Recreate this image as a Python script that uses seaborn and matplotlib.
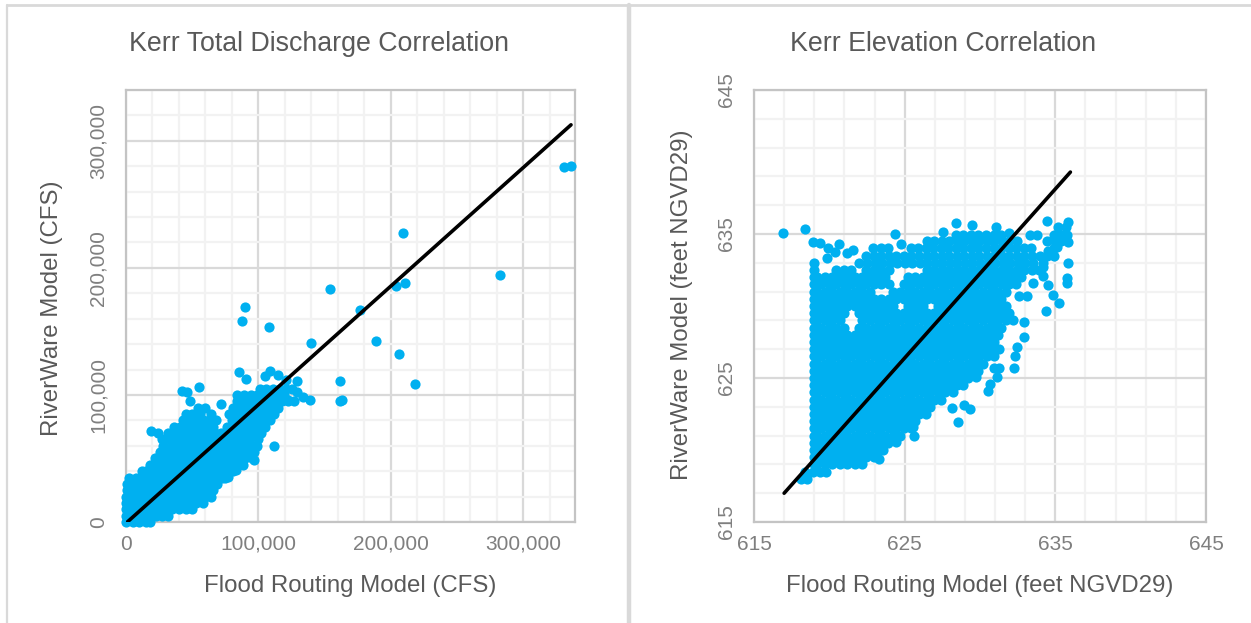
import matplotlib
matplotlib.use("Agg")
import matplotlib.pyplot as plt
import numpy as np
import seaborn as sns
from matplotlib.lines import Line2D
from matplotlib.ticker import FuncFormatter, MultipleLocator

# Kerr total discharge, thousands of CFS: one flood routing list per riverware level
discharge_levels = [0, 5, 10, 15, 20, 25, 30, 35, 40, 45, 50, 55, 60, 65, 70, 75, 80, 85, 90, 95, 100, 105]
discharge_flood = [
    [0, 5, 10, 15, 18],
    [0, 2.5, 7.5, 12.5, 17.5, 22.5, 27.5, 32],
    [0, 5, 10, 15, 20, 25, 30, 35, 40, 45, 50],
    [0, 2.5, 7.5, 12.5, 17.5, 22.5, 27.5, 32.5, 37.5, 42.5, 47.5, 52.5, 58],
    [0, 5, 10, 15, 20, 25, 30, 35, 40, 45, 50, 55, 60, 64],
    [1, 2.5, 7.5, 12.5, 17.5, 22.5, 27.5, 32.5, 37.5, 42.5, 47.5, 52.5, 57.5, 62.5, 66],
    [1, 5, 10, 15, 20, 25, 30, 35, 40, 45, 50, 55, 60, 65, 69],
    [2, 7.5, 12.5, 17.5, 22.5, 27.5, 32.5, 37.5, 42.5, 47.5, 52.5, 57.5, 62.5, 67.5, 72.5, 75],
    [12, 15, 20, 25, 30, 35, 40, 45, 50, 55, 60, 65, 70, 75, 81],
    [18, 22.5, 27.5, 32.5, 37.5, 42.5, 47.5, 52.5, 57.5, 62.5, 67.5, 72.5, 77.5, 82.5, 88],
    [22, 25, 30, 35, 40, 45, 50, 55, 60, 65, 70, 75, 80, 85, 90, 95],
    [26, 32.5, 37.5, 42.5, 47.5, 52.5, 57.5, 62.5, 67.5, 72.5, 77.5, 82.5, 87.5, 92.5, 97],
    [28, 35, 40, 45, 50, 55, 60, 65, 70, 75, 80, 85, 90, 95, 99],
    [27, 32.5, 37.5, 42.5, 47.5, 52.5, 57.5, 62.5, 67.5, 72.5, 77.5, 82.5, 87.5, 92.5, 100],
    [32, 37, 42, 47, 52, 57, 62, 67, 72, 77, 82, 87, 92, 97, 102],
    [36, 41, 46, 51, 56, 61, 66, 76, 81, 86, 91, 96, 101, 105],
    [43, 48, 53, 58, 63, 68, 80, 85, 90, 95, 100, 105, 109],
    [45, 50, 56, 64, 78, 83, 88, 93, 98, 103, 108, 112],
    [54, 60, 81, 86, 91, 96, 101, 106, 111, 115],
    [84, 90, 95, 100, 105, 110, 115, 118, 122, 127],
    [84, 89, 94, 99, 104, 109, 114, 119],
    [101, 106, 111, 116, 121, 125],
]
discharge_flood_out = [331, 336, 209, 282, 154, 204, 211, 177, 90, 87.5, 108, 140, 189, 206, 161.5, 218, 163, 161.5,
                       85, 90.6, 105, 109, 115, 121, 129, 139, 134, 122.5, 129, 112, 115, 112, 97, 83, 77, 55, 19, 24,
                       42, 46, 48, 72]
discharge_river_out = [279.5, 280, 227.6, 194.5, 183.5, 186, 188, 167, 169, 158, 153.5, 141, 142.5, 132, 111, 108.7, 96, 95,
                       118, 112.6, 115, 119, 115.7, 112, 111, 96, 98.7, 96, 102.6, 91, 94.7, 60, 49, 41, 35.7, 106.5, 72, 70,
                       103, 102.6, 95, 93]
discharge_line_x = [1, 336]
discharge_line_y = [0, 312.6]

# Kerr elevation, feet NGVD29
elev_levels = [618.0, 618.5, 619.0, 619.5, 620.0, 620.5, 621.0, 621.5, 622.0, 622.5, 623.0, 623.5, 624.0, 624.5, 625.0,
               625.5, 626.0, 626.5, 627.0, 627.5, 628.0, 628.5, 629.0, 629.5, 630.0, 630.5, 631.0, 631.5, 632.0, 632.5,
               633.0, 633.5, 634.0, 634.5, 634.9, 635.5]
elev_flood = [
    [618.1, 618.5],
    [618.4, 618.9, 619.4, 619.8],
    [619.0, 619.2, 619.7, 620.2, 620.7, 621.2, 621.7, 622.2],
    [619.0, 619.45, 619.95, 620.45, 620.95, 621.45, 621.95, 622.45, 622.95],
    [619.0, 619.2, 619.7, 620.2, 620.7, 621.2, 621.7, 622.2, 622.7, 623.2],
    [619.0, 619.45, 619.95, 620.45, 620.95, 621.45, 621.95, 622.45, 622.95, 623.45, 623.9],
    [619.0, 619.2, 619.7, 620.2, 620.7, 621.2, 621.7, 622.2, 622.7, 623.2, 623.7, 624.2, 624.7],
    [619.0, 619.45, 619.95, 620.45, 620.95, 621.45, 621.95, 622.45, 622.95, 623.45, 623.95, 624.45, 624.95, 625.4],
    [619.0, 619.2, 619.7, 620.2, 620.7, 621.2, 621.7, 622.2, 622.7, 623.2, 623.7, 624.2, 624.7, 625.2, 625.7],
    [619.0, 619.45, 619.95, 620.45, 620.95, 621.45, 621.95, 622.45, 622.95, 623.45, 623.95, 624.45, 624.95, 625.45, 625.95, 626.4],
    [619.0, 619.2, 619.7, 620.2, 620.7, 621.2, 621.7, 622.2, 622.7, 623.2, 623.7, 624.2, 624.7, 625.2, 625.7, 626.2, 626.7],
    [619.0, 619.45, 619.95, 620.45, 620.95, 621.45, 621.95, 622.45, 622.95, 623.45, 623.95, 624.45, 624.95, 625.45, 625.95, 626.45, 626.95, 627.4],
    [619.0, 619.2, 619.7, 620.2, 620.7, 621.2, 621.7, 622.2, 622.7, 623.2, 623.7, 624.2, 624.7, 625.2, 625.7, 626.2, 626.7, 627.2, 627.7, 628.2],
    [619.0, 619.45, 619.95, 620.45, 620.95, 621.45, 621.95, 622.45, 622.95, 623.45, 623.95, 624.45, 624.95, 625.45, 625.95, 626.45, 626.95, 627.45, 627.95, 628.45, 628.9],
    [619.0, 619.2, 619.7, 620.2, 620.7, 621.2, 621.7, 622.2, 622.7, 623.2, 623.7, 624.2, 624.7, 625.2, 625.7, 626.2, 626.7, 627.2, 627.7, 628.2, 628.7, 629.2],
    [619.0, 619.45, 619.95, 620.45, 620.95, 621.45, 621.95, 622.45, 622.95, 623.45, 623.95, 624.45, 624.95, 625.45, 625.95, 626.45, 626.95, 627.45, 627.95, 628.45, 628.95, 629.45, 629.9],
    [619.0, 619.2, 619.7, 620.2, 620.7, 621.2, 621.7, 622.2, 622.7, 623.2, 623.7, 624.2, 624.7, 625.2, 625.7, 626.2, 626.7, 627.2, 627.7, 628.2, 628.7, 629.2, 629.7, 630.2],
    [619.0, 619.45, 619.95, 620.45, 620.95, 621.45, 621.95, 622.45, 622.95, 623.45, 623.95, 624.45, 624.95, 625.45, 625.95, 626.45, 626.95, 627.45, 627.95, 628.45, 628.95, 629.45, 629.95, 630.45, 630.9],
    [619.0, 619.2, 619.7, 620.2, 620.7, 621.2, 621.7, 622.2, 622.7, 623.2, 623.7, 624.2, 624.7, 625.2, 625.7, 626.2, 626.7, 627.2, 627.7, 628.2, 628.7, 629.2, 629.7, 630.2, 630.7],
    [619.0, 619.45, 619.95, 620.45, 620.95, 621.45, 621.95, 622.45, 622.95, 623.45, 623.95, 624.45, 624.95, 625.45, 625.95, 626.45, 626.95, 627.45, 627.95, 628.45, 628.95, 629.45, 629.95, 630.45, 630.9],
    [619.0, 619.2, 619.7, 620.2, 620.7, 621.2, 621.7, 622.2, 622.7, 623.2, 623.7, 624.2, 624.7, 625.2, 625.7, 626.2, 626.7, 627.2, 627.7, 628.2, 628.7, 629.2, 629.7, 630.2, 630.7, 631.2],
    [619.0, 619.45, 619.95, 620.45, 620.95, 621.95, 622.45, 622.95, 623.45, 623.95, 624.45, 624.95, 625.45, 625.95, 626.45, 626.95, 627.45, 627.95, 628.45, 628.95, 629.45, 629.95, 630.45, 630.95, 631.4],
    [619.0, 619.2, 619.7, 620.2, 620.7, 622.2, 622.7, 623.2, 623.7, 624.2, 624.7, 625.2, 625.7, 626.2, 626.7, 627.2, 627.7, 628.2, 628.7, 629.2, 629.7, 630.2, 630.7, 631.2, 631.7],
    [619.0, 619.45, 619.95, 620.45, 620.95, 621.95, 622.45, 622.95, 623.45, 623.95, 624.45, 624.95, 625.45, 625.95, 626.45, 626.95, 627.45, 627.95, 628.45, 628.95, 629.45, 629.95, 630.45, 630.95, 631.45, 631.9],
    [619.0, 619.2, 619.7, 620.2, 620.7, 621.2, 621.7, 622.2, 622.7, 623.2, 623.7, 624.2, 625.2, 625.7, 626.2, 627.2, 627.7, 628.2, 628.7, 629.2, 629.7, 630.2, 630.7, 631.2, 631.7],
    [619.0, 619.45, 619.95, 620.45, 620.95, 621.45, 621.95, 622.45, 622.95, 623.45, 623.95, 624.45, 624.95, 625.45, 625.95, 626.45, 626.95, 627.45, 627.95, 628.45, 628.95, 629.45, 629.95, 630.45, 630.95, 631.4],
    [619.0, 619.2, 619.7, 620.2, 620.7, 621.2, 621.7, 622.2, 622.7, 624.2, 624.7, 625.2, 625.7, 626.2, 626.7, 627.2, 627.7, 628.2, 628.7, 629.2, 629.7, 630.2, 630.7, 631.2, 631.7],
    [619.0, 619.45, 619.95, 620.45, 620.95, 621.45, 621.95, 622.45, 622.95, 623.45, 623.95, 624.95, 625.45, 625.95, 626.45, 626.95, 627.45, 627.95, 628.45, 628.95, 629.45, 629.95, 630.45, 630.95, 631.45, 631.95, 632.4],
    [619.0, 619.2, 619.7, 620.2, 620.7, 621.2, 621.7, 622.2, 622.7, 623.2, 623.7, 625.2, 625.7, 626.2, 626.7, 627.2, 627.7, 628.2, 628.7, 629.2, 629.7, 630.2, 630.7, 631.2, 631.7, 632.2, 632.7],
    [619.0, 620.45, 620.95, 621.45, 622.45, 622.95, 623.45, 623.95, 626.45, 626.95, 627.45, 627.95, 628.45, 628.95, 629.45, 629.95, 630.45, 630.95, 631.45, 631.95, 632.45, 632.95, 633.45, 633.9],
    [619.0, 622.0, 622.5, 623.0, 623.5, 624.0, 624.5, 625.0, 625.5, 626.0, 626.5, 627.0, 627.5, 628.0, 628.5, 629.0, 629.5, 630.0, 630.5, 631.0, 631.5, 632.0, 632.5, 633.0, 633.5, 634.2],
    [622.45, 622.95, 623.45, 623.95, 624.45, 624.95, 625.45, 625.95, 626.45, 626.95, 627.45, 627.95, 628.45, 628.95, 629.45, 629.95, 630.45, 630.95, 631.45, 631.95, 632.45, 632.95, 633.45, 633.95, 634.45, 634.9],
    [622.9, 623.4, 623.9, 625.4, 625.9, 626.4, 626.9, 627.4, 627.9, 628.4, 628.9, 629.4, 629.9, 630.4, 630.9, 631.4, 631.9, 632.4, 632.9, 633.4, 634.9],
    [626.45, 626.95, 627.45, 627.95, 628.45, 628.95, 629.45, 629.95, 630.45, 630.95, 631.45, 631.95, 632.45, 634.45, 634.95, 635.4],
    [628.4, 628.9, 629.4, 629.9, 630.4, 630.9, 631.4, 633.3, 633.8, 634.9, 635.4, 635.8],
    [635.2, 635.7],
]
elev_flood_out = [616.95, 618.38, 624.36, 628.38, 629.49, 631.06, 631.94, 634.46, 635.86, 635.86, 635.86, 635.75, 635.75,
                  635.13, 634.53, 634.2, 634.2, 633.54, 634.53, 634.86, 635.26, 634.37, 633.09, 632.6, 632.92, 632.21,
                  632.92, 632.47, 632.34, 631.28, 630.55, 632.27, 631.28, 630.93, 631.1, 629.95, 629.71, 630.66, 630.55,
                  628.54, 629.33, 628.93, 628.12, 625.57, 625.64, 624.4, 623.32, 623.58, 618.94, 619.38, 620.66, 621.59,
                  621.15, 619.82, 619.93, 620.37, 624.73, 627.56]
elev_river_out = [635.09, 635.35, 635.0, 635.79, 635.62, 635.46, 635.09, 635.88, 635.86, 634.47, 632.96, 631.92, 631.57,
                  634.12, 633.84, 632.73, 632.08, 631.62, 631.46, 630.76, 630.18, 629.65, 630.72, 630.72, 628.91, 629.03,
                  627.82, 627.17, 626.55, 626.99, 627.11, 625.67, 625.67, 625.67, 625.05, 625.95, 625.05, 624.56, 624.07,
                  621.97, 622.82, 623.12, 622.89, 621.62, 620.97, 620.58, 619.37, 620.0, 634.47, 634.4, 634.3, 633.89,
                  633.7, 633.31, 634.0, 633.77, 634.3, 635.16]
elev_line_x = [617, 636]
elev_line_y = [617, 639.3]

BLUE = "#00B0F0"
TEXT = "#595959"
TICK = "#7F7F7F"
W, H = 1251, 623

sns.set_theme(style="white")
plt.rcParams["font.family"] = ["Liberation Sans", "DejaVu Sans"]


def expand(levels, rows):
    xs = [x for row in rows for x in row]
    ys = [lev for lev, row in zip(levels, rows) for _ in row]
    return xs, ys


def style_axes(ax, xmin, xmax, ymin, ymax, major, minor, major_off=0, minor_off=0):
    ax.set_xlim(xmin, xmax)
    ax.set_ylim(ymin, ymax)
    ax.xaxis.set_major_locator(MultipleLocator(major, offset=major_off))
    ax.yaxis.set_major_locator(MultipleLocator(major, offset=major_off))
    ax.xaxis.set_minor_locator(MultipleLocator(minor, offset=minor_off))
    ax.yaxis.set_minor_locator(MultipleLocator(minor, offset=minor_off))
    ax.grid(which="major", color="#D9D9D9", lw=1.6, zorder=1)
    ax.grid(which="minor", color="#F2F2F2", lw=1.6, zorder=0)
    ax.set_axisbelow(True)
    for side in ax.spines:
        ax.spines[side].set_color("#C4C4C4")
        ax.spines[side].set_linewidth(1.6)
    ax.tick_params(which="both", length=0)
    ax.tick_params(axis="x", labelsize=15, labelcolor=TICK, pad=9)
    ax.tick_params(axis="y", labelsize=15, labelcolor=TICK, pad=13)
    for lab in ax.get_yticklabels():
        lab.set_rotation(90)
        lab.set_va("center")


def draw_panel(ax, xs, ys, line_x, line_y):
    sns.scatterplot(x=xs, y=ys, ax=ax, color=BLUE, s=54, linewidth=0, clip_on=False, zorder=3, legend=False)
    sns.lineplot(x=line_x, y=line_y, ax=ax, color="black", lw=2.6, zorder=4, legend=False)


fig = plt.figure(figsize=(W / 100, H / 100), dpi=100, facecolor="white")
ax1 = fig.add_axes([126 / W, 1 - 522 / H, 449 / W, 432 / H])
ax2 = fig.add_axes([754 / W, 1 - 522 / H, 452 / W, 432 / H])

x1, y1 = expand(discharge_levels, discharge_flood)
x1 = np.array(x1 + discharge_flood_out) * 1000
y1 = np.array(y1 + discharge_river_out) * 1000
draw_panel(ax1, x1, y1, np.array(discharge_line_x) * 1000, np.array(discharge_line_y) * 1000)
style_axes(ax1, 0, 339000, 0, 340000, 100000, 20000)
comma = FuncFormatter(lambda v, _: f"{int(v):,}")
ax1.xaxis.set_major_formatter(comma)
ax1.yaxis.set_major_formatter(comma)

x2, y2 = expand(elev_levels, elev_flood)
draw_panel(ax2, x2 + elev_flood_out, y2 + elev_river_out, elev_line_x, elev_line_y)
style_axes(ax2, 615, 645, 615, 645, 10, 2, major_off=5, minor_off=1)

# label positions follow the pixel layout of the original slide
ax1.set_title("Kerr Total Discharge Correlation", color=TEXT, fontsize=19.3, x=(319 - 126) / 449, y=(522 - 51) / 432, pad=0)
ax2.set_title("Kerr Elevation Correlation", color=TEXT, fontsize=19.3, x=(943 - 754) / 452, y=(522 - 51) / 432, pad=0)
ax1.set_xlabel("Flood Routing Model (CFS)", color=TEXT, fontsize=17.3)
ax1.set_ylabel("RiverWare Model (CFS)", color=TEXT, fontsize=17.3)
ax2.set_xlabel("Flood Routing Model (feet NGVD29)", color=TEXT, fontsize=17.3)
ax2.set_ylabel("RiverWare Model (feet NGVD29)", color=TEXT, fontsize=17.3)
ax1.xaxis.set_label_coords((350 - 126) / 449, (522 - 575) / 432)
ax1.yaxis.set_label_coords((63 - 126) / 449, (522 - 308) / 432)
ax2.xaxis.set_label_coords((980 - 754) / 452, (522 - 575) / 432)
ax2.yaxis.set_label_coords((693 - 754) / 452, (522 - 305) / 432)

# panel borders
for xa, ya, lw in [((7, 7), (5, H), 1.6), ((629, 629), (5, H), 3.2), ((7, W), (5, 5), 2.0)]:
    fig.add_artist(Line2D(np.array(xa) / W, 1 - np.array(ya) / H, color="#D9D9D9", lw=lw))

fig.savefig("out.png", dpi=100)
